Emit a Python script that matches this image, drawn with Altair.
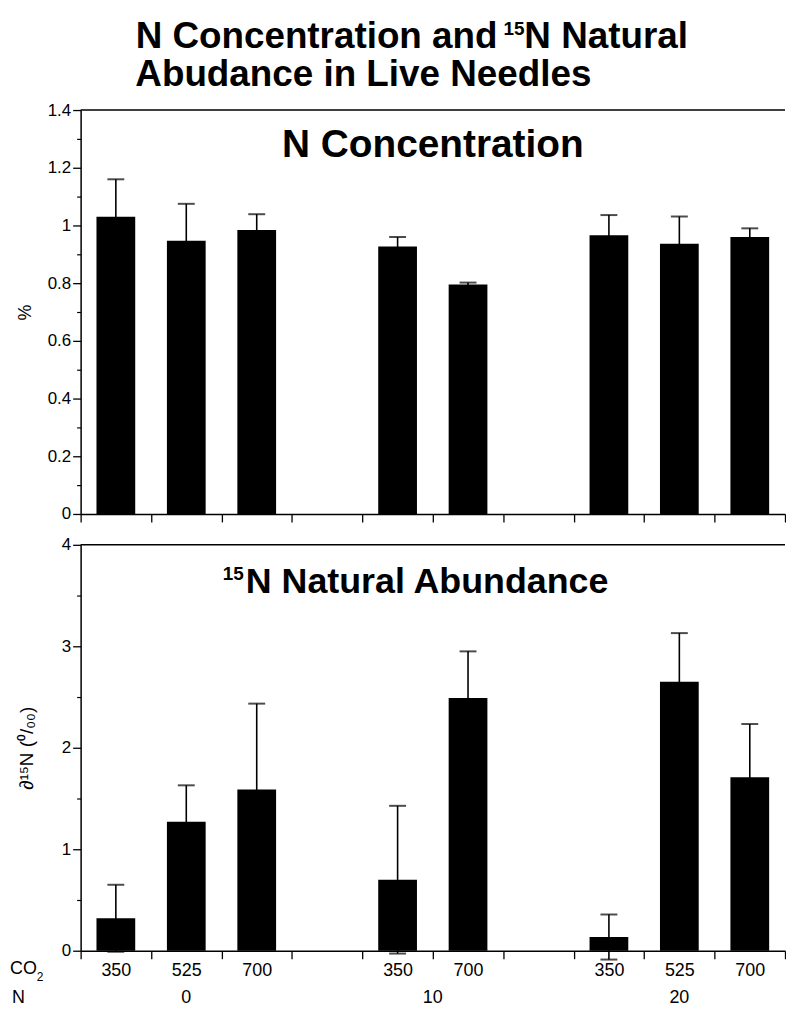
import json
import altair as alt
import pandas as pd

FONT = "Liberation Sans, Arial, Helvetica, sans-serif"

# ---- data ----
slot_ids = ["s1", "s2", "s3", "s4", "s5", "s6", "s7", "s8", "s9", "s10"]
co2_labels = ["350", "525", "700", "", "350", "700", "", "350", "525", "700"]
bar_slots = ["s1", "s2", "s3", "s5", "s6", "s8", "s9", "s10"]
n_conc = [1.03, 0.947, 0.984, 0.927, 0.795, 0.966, 0.937, 0.960]
n_conc_se = [0.13, 0.128, 0.055, 0.033, 0.007, 0.070, 0.094, 0.030]
d15n = [0.32, 1.27, 1.59, 0.70, 2.49, 0.135, 2.65, 1.71]
d15n_se = [0.33, 0.36, 0.845, 0.728, 0.46, 0.222, 0.48, 0.524]
n_group_labels = ["0", "10", "20"]
n_group_slots = ["s2", "s6", "s9"]
n_group_band = [0.5, 0.0, 0.5]
top_ticks = [0, 0.2, 0.4, 0.6, 0.8, 1.0, 1.2, 1.4]
top_minor = [0.1, 0.3, 0.5, 0.7, 0.9, 1.1, 1.3]
bot_ticks = [0, 1, 2, 3, 4]
bot_minor = [0.5, 1.5, 2.5, 3.5]

W = 708
H_TOP = 406
H_BOT = 408

label_expr = f"{json.dumps(co2_labels)}[indexof({json.dumps(slot_ids)}, datum.value)]"


def make_df(vals, errs):
    df = pd.DataFrame({"slot": bar_slots, "val": vals, "se": errs})
    df["lo"] = df["val"] - df["se"]
    df["hi"] = df["val"] + df["se"]
    return df


def xenc(show_labels):
    ax = alt.Axis(
        title=None,
        tickBand="extent",
        labels=show_labels,
        labelExpr=label_expr,
        labelAngle=0,
        tickSize=8,
        tickWidth=1.3,
        domainWidth=1.5,
        labelPadding=3,
        labelFontSize=18,
        labelColor="black",
        tickColor="black",
        domainColor="black",
        grid=False,
    )
    return alt.X(
        "slot:N",
        scale=alt.Scale(domain=slot_ids, paddingInner=0, paddingOuter=0),
        axis=ax,
    )


def text_layer(txt, x, y, size, bold=True, align="left", baseline="alphabetic"):
    return (
        alt.Chart(pd.DataFrame({"t": [txt]}))
        .mark_text(
            align=align,
            baseline=baseline,
            fontSize=size,
            fontWeight="bold" if bold else "normal",
            color="black",
            font=FONT,
        )
        .encode(x=alt.value(x), y=alt.value(y), text="t:N")
    )


def panel(vals, errs, ymax, majors, minors, ytitle, title_x, title_size, show_labels):
    df = make_df(vals, errs)
    base = alt.Chart(df)
    yscale = alt.Scale(domain=[0, ymax], nice=False, zero=True)
    main_axis = alt.Axis(
        values=majors,
        format="~g",
        title=ytitle,
        titleFontSize=title_size,
        titleFontWeight="normal",
        titleColor="black",
        titleX=title_x,
        labelFontSize=17,
        labelColor="black",
        tickSize=8,
        tickWidth=1.3,
        domainWidth=1.5,
        domainColor="black",
        tickColor="black",
        orient="left",
        grid=False,
    )
    minor_axis = alt.Axis(
        values=minors,
        labels=False,
        domain=False,
        tickSize=4,
        tickWidth=1.2,
        tickColor="black",
        title=None,
        orient="left",
        grid=False,
    )
    bars = base.mark_bar(color="black", width=alt.RelativeBandSize(0.55)).encode(
        x=xenc(show_labels),
        y=alt.Y("val:Q", scale=yscale, axis=main_axis),
    )
    err = base.mark_rule(color="black", strokeWidth=1.6).encode(
        x=alt.X("slot:N"),
        y=alt.Y("lo:Q", scale=yscale, axis=minor_axis),
        y2="hi:Q",
    )
    cap_hi = base.mark_tick(color="black", size=17, thickness=2, orient="horizontal").encode(
        x=alt.X("slot:N"), y=alt.Y("hi:Q", axis=None)
    )
    cap_lo = base.mark_tick(color="black", size=17, thickness=2, orient="horizontal").encode(
        x=alt.X("slot:N"), y=alt.Y("lo:Q", axis=None)
    )
    top_line = (
        alt.Chart(pd.DataFrame({"v": [ymax]}))
        .mark_rule(color="black", strokeWidth=1.5)
        .encode(y=alt.Y("v:Q", axis=None))
    )
    return [bars, err, cap_hi, cap_lo, top_line]


top_layers = panel(n_conc, n_conc_se, 1.4, top_ticks, top_minor, "%", -46, 18, False)
top_layers += [
    text_layer("N Concentration and", 419, -62, 37, align="right"),
    text_layer("15", 425, -75, 19),
    text_layer("N Natural", 446, -62, 37),
    text_layer("Abudance in Live Needles", 55, -24, 37),
    text_layer("N Concentration", W / 2, 47, 39, align="center"),
]
top = alt.layer(*top_layers).properties(width=W, height=H_TOP).resolve_axis(y="independent")

bot_layers = panel(d15n, d15n_se, 4, bot_ticks, bot_minor, "∂¹⁵N (⁰/₀₀)", -44, 19, True)

grp = pd.DataFrame({"t": n_group_labels, "slot": n_group_slots, "bp": n_group_band})
grp_center = (
    alt.Chart(grp[grp["bp"] == 0.5])
    .mark_text(fontSize=18, color="black", font=FONT, baseline="middle")
    .encode(x=alt.X("slot:N", bandPosition=0.5), y=alt.value(H_BOT + 48), text="t:N")
)
grp_edge = (
    alt.Chart(grp[grp["bp"] == 0.0])
    .mark_text(fontSize=18, color="black", font=FONT, baseline="middle")
    .encode(x=alt.X("slot:N", bandPosition=0), y=alt.value(H_BOT + 48), text="t:N")
)
bot_layers += [
    grp_center,
    grp_edge,
    text_layer("CO", -71, H_BOT + 18, 18, bold=False, baseline="middle"),
    text_layer("2", -44, H_BOT + 26, 12, bold=False, baseline="middle"),
    text_layer("N", -69, H_BOT + 48, 18, bold=False, baseline="middle"),
    text_layer("N Natural Abundance", 166, 48, 36),
    text_layer("15", 164, 35, 19, align="right"),
]
bot = alt.layer(*bot_layers).properties(width=W, height=H_BOT).resolve_axis(y="independent")

chart = (
    alt.vconcat(top, bot, spacing=13)
    .properties(padding={"left": 2, "top": 8, "right": 0, "bottom": 0})
    .configure_view(stroke=None)
    .configure_axis(labelFont=FONT, titleFont=FONT)
    .configure_text(font=FONT)
)

chart.save("out.html", embed_options={"renderer": "svg", "actions": False})
